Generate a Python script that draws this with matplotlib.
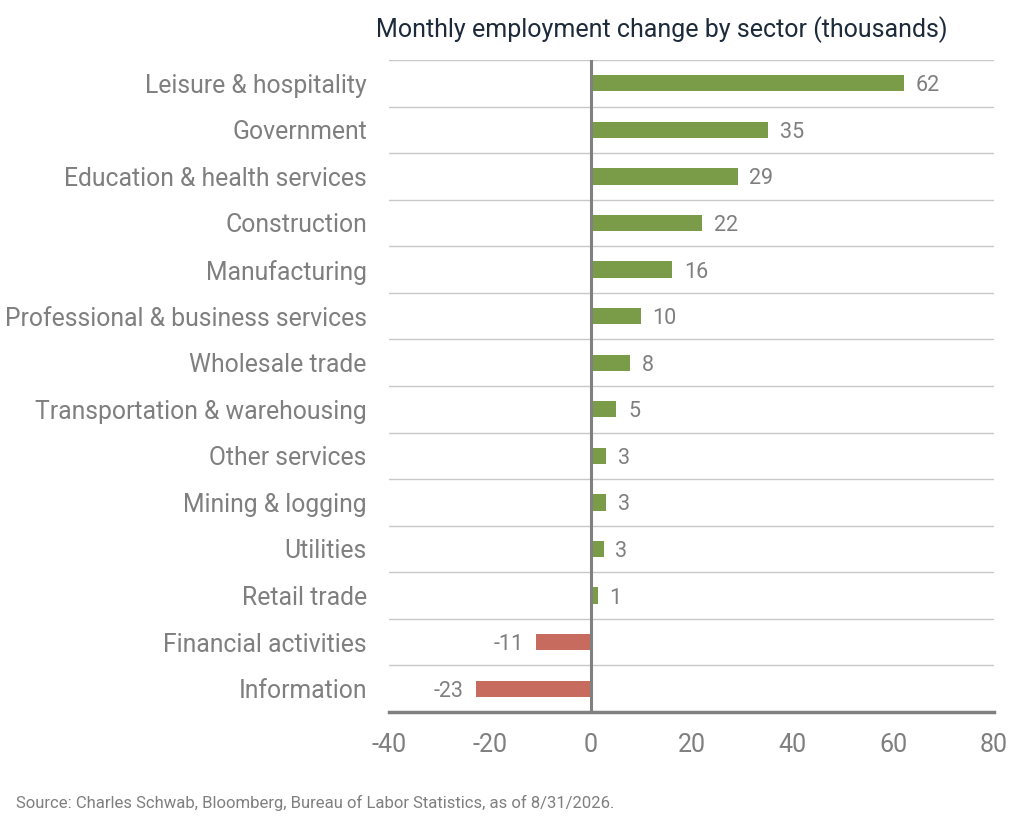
import numpy as np
import matplotlib.pyplot as plt

sectors = ["Leisure & hospitality", "Government", "Education & health services",
           "Construction", "Manufacturing", "Professional & business services",
           "Wholesale trade", "Transportation & warehousing", "Other services",
           "Mining & logging", "Utilities", "Retail trade", "Financial activities",
           "Information"]
change = [62.2, 35.2, 29.2, 22.1, 16.2, 10.0, 7.9, 5.1, 3.1, 3.1, 2.6, 1.4, -10.9, -22.8]
xticks = [-40, -20, 0, 20, 40, 60, 80]

plt.rcParams['font.family'] = ['Roboto', 'DejaVu Sans']
grey = '#7f7f7f'

fig = plt.figure(figsize=(10.22, 8.25), dpi=100)
ax = fig.add_axes([0.3806, 0.137, 0.592, 0.7903])

y = np.arange(len(sectors))
colors = ['#7a9c48' if v >= 0 else '#c86b5f' for v in change]
ax.barh(y, change, height=0.35, color=colors, zorder=3)

for yi, v in zip(y, change):
    lab = str(int(round(v)))
    if v >= 0:
        ax.text(v + 2.3, yi, lab, va='center_baseline', ha='left', fontsize=15.5, color=grey)
    else:
        ax.text(v - 2.3, yi, lab, va='center_baseline', ha='right', fontsize=15.5, color=grey)

ax.set_ylim(len(sectors) - 0.5, -0.5)
ax.set_xlim(-40, 80)
ax.set_yticks(y)
ax.set_yticklabels(sectors, fontsize=17.8, color=grey)
ax.set_xticks(xticks)
ax.set_xticklabels([str(t) for t in xticks], fontsize=18, color=grey)
ax.tick_params(length=0)
ax.tick_params(axis='x', pad=15)
ax.tick_params(axis='y', pad=16)

for b in np.arange(-0.5, len(sectors) - 0.5, 1):
    ax.axhline(b, color='#c8c8c8', lw=1, zorder=1)
ax.axvline(0, color='#808080', lw=2.2, zorder=4)

for s in ['top', 'right', 'left']:
    ax.spines[s].set_visible(False)
ax.spines['bottom'].set_color('#808080')
ax.spines['bottom'].set_linewidth(2.5)

fig.text(376 / 1022, 1 - 30 / 825, "Monthly employment change by sector (thousands)",
         fontsize=18, color='#1c2a3a', ha='left', va='center')
fig.text(16 / 1022, 1 - 803 / 825,
         "Source: Charles Schwab, Bloomberg, Bureau of Labor Statistics, as of 8/31/2026.",
         fontsize=12, color=grey, ha='left', va='center')

fig.savefig('out.png', dpi=100)
